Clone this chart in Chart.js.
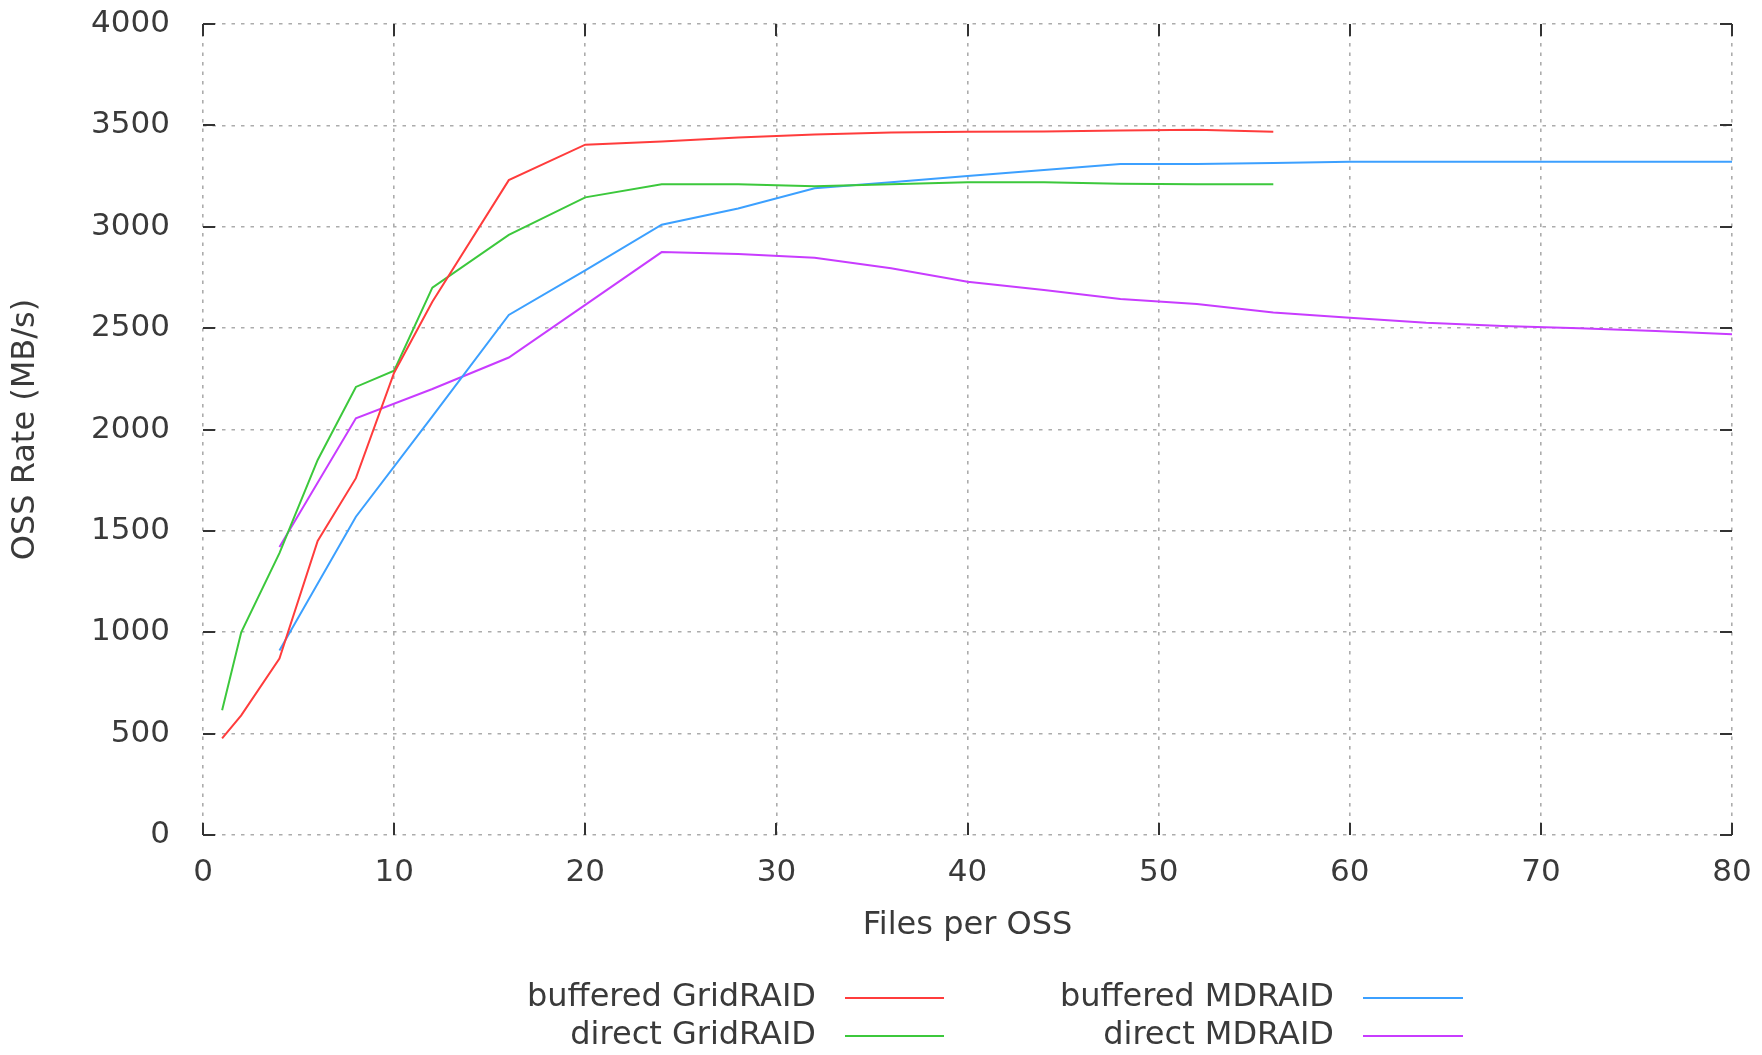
<!DOCTYPE html>
<html>
<head>
<meta charset="utf-8">
<title>OSS Rate vs Files per OSS</title>
<script src="https://cdn.jsdelivr.net/npm/chart.js@4/dist/chart.umd.min.js"></script>
<style>
  html, body { margin: 0; padding: 0; background: #ffffff; }
  #wrap { width: 1762px; height: 1055px; position: relative; }
</style>
</head>
<body>
<div id="wrap"><canvas id="chart"></canvas></div>
<script>
// Files per OSS measured for each RAID layout
const gridFiles = [1, 2, 4, 6, 8, 10, 12, 16, 20, 24, 28, 32, 36, 40, 44, 48, 52, 56];
const mdFiles   = [4, 8, 12, 16, 20, 24, 28, 32, 36, 40, 44, 48, 52, 56, 60, 64, 68, 72, 76, 80];

// OSS rate in MB/s
const bufferedGridRAID = [477, 590, 870, 1450, 1760, 2280, 2630, 3230, 3405, 3420, 3440, 3455, 3465, 3468, 3470, 3475, 3478, 3468];
const directGridRAID   = [615, 1000, 1390, 1850, 2210, 2290, 2700, 2960, 3145, 3210, 3210, 3200, 3210, 3220, 3220, 3212, 3210, 3210];
const bufferedMDRAID   = [910, 1570, 2065, 2565, 2785, 3010, 3090, 3190, 3220, 3250, 3280, 3310, 3310, 3315, 3320, 3320, 3320, 3320, 3320, 3320];
const directMDRAID     = [1420, 2055, 2200, 2355, 2615, 2875, 2866, 2847, 2795, 2729, 2688, 2644, 2619, 2577, 2551, 2526, 2510, 2499, 2486, 2470];

// Axis ticks
const xTicks = [0, 10, 20, 30, 40, 50, 60, 70, 80];
const yTicks = [0, 500, 1000, 1500, 2000, 2500, 3000, 3500, 4000];

const seriesNames = ['buffered GridRAID', 'direct GridRAID', 'buffered MDRAID', 'direct MDRAID'];
const seriesColors = ['#ff3c3c', '#3cc83c', '#3ca0ff', '#c83cff'];

const FONT = 'DejaVu Sans';
const TEXT = '#3a3a3a';
const GRID = '#acacac';

function pairs(xs, ys) {
  return xs.map((x, i) => ({ x: x, y: ys[i] }));
}

// Short inward tick marks on all four sides of the plot area
const innerTicks = {
  id: 'innerTicks',
  afterDatasetsDraw(chart) {
    const { ctx, chartArea: a, scales } = chart;
    const len = 12;
    ctx.save();
    ctx.strokeStyle = '#333333';
    ctx.lineWidth = 2;
    ctx.beginPath();
    xTicks.forEach(v => {
      const px = Math.round(scales.x.getPixelForValue(v));
      ctx.moveTo(px, a.bottom); ctx.lineTo(px, a.bottom - len);
      ctx.moveTo(px, a.top);    ctx.lineTo(px, a.top + len);
    });
    yTicks.forEach(v => {
      const py = Math.round(scales.y.getPixelForValue(v));
      ctx.moveTo(a.left, py);  ctx.lineTo(a.left + len, py);
      ctx.moveTo(a.right, py); ctx.lineTo(a.right - len, py);
    });
    ctx.stroke();
    ctx.restore();
  }
};

// Two-column key below the plot: label text followed by a line sample
const keyBelow = {
  id: 'keyBelow',
  afterDraw(chart) {
    const { ctx } = chart;
    const textRight = [816, 1334];
    const sampleX = [[845, 944], [1363, 1463]];
    const rowY = [998, 1036];
    ctx.save();
    ctx.font = '32px "' + FONT + '"';
    ctx.textAlign = 'right';
    ctx.textBaseline = 'middle';
    chart.data.datasets.forEach((ds, i) => {
      const col = Math.floor(i / 2), row = i % 2;
      ctx.fillStyle = TEXT;
      ctx.fillText(ds.label, textRight[col], rowY[row]);
      ctx.strokeStyle = ds.borderColor;
      ctx.lineWidth = 2;
      ctx.beginPath();
      ctx.moveTo(sampleX[col][0], rowY[row]);
      ctx.lineTo(sampleX[col][1], rowY[row]);
      ctx.stroke();
    });
    ctx.restore();
  }
};

const seriesData = [
  pairs(gridFiles, bufferedGridRAID),
  pairs(gridFiles, directGridRAID),
  pairs(mdFiles, bufferedMDRAID),
  pairs(mdFiles, directMDRAID)
];

new Chart(document.getElementById('chart'), {
  type: 'line',
  data: {
    datasets: seriesNames.map((name, i) => ({
      label: name,
      data: seriesData[i],
      borderColor: seriesColors[i],
      backgroundColor: seriesColors[i],
      borderWidth: 2,
      pointRadius: 0,
      tension: 0,
      fill: false
    }))
  },
  options: {
    responsive: true,
    maintainAspectRatio: false,
    devicePixelRatio: 1,
    animation: false,
    layout: { padding: { left: 0, right: 30, top: 24, bottom: 110 } },
    plugins: {
      legend: { display: false },
      tooltip: { enabled: false }
    },
    scales: {
      x: {
        type: 'linear',
        min: 0,
        max: 80,
        afterFit(scale) {
          scale.height = 110;
          scale.paddingLeft = 0;
          scale.paddingRight = 0;
        },
        afterBuildTicks(scale) { scale.ticks = xTicks.map(v => ({ value: v })); },
        grid: { color: GRID, lineWidth: 1.6, drawTicks: false },
        border: { display: false, dash: [3.5, 6] },
        ticks: {
          padding: 19,
          maxRotation: 0,
          color: TEXT,
          font: { family: FONT, size: 31 },
          callback: v => String(v)
        },
        title: {
          display: true,
          text: 'Files per OSS',
          color: TEXT,
          padding: { top: 0, bottom: 0 },
          font: { family: FONT, size: 32 }
        }
      },
      y: {
        type: 'linear',
        min: 0,
        max: 4000,
        afterFit(scale) {
          scale.width = 203;
          scale.paddingTop = 0;
          scale.paddingBottom = 0;
        },
        afterBuildTicks(scale) { scale.ticks = yTicks.map(v => ({ value: v })); },
        grid: { color: GRID, lineWidth: 1.6, drawTicks: false },
        border: { display: false, dash: [3.5, 6] },
        ticks: {
          padding: 33,
          color: TEXT,
          font: { family: FONT, size: 31 },
          callback: v => String(v)
        },
        title: {
          display: true,
          text: 'OSS Rate (MB/s)',
          color: TEXT,
          padding: { top: 6, bottom: 0 },
          font: { family: FONT, size: 32 }
        }
      }
    }
  },
  plugins: [innerTicks, keyBelow]
});
</script>
</body>
</html>
